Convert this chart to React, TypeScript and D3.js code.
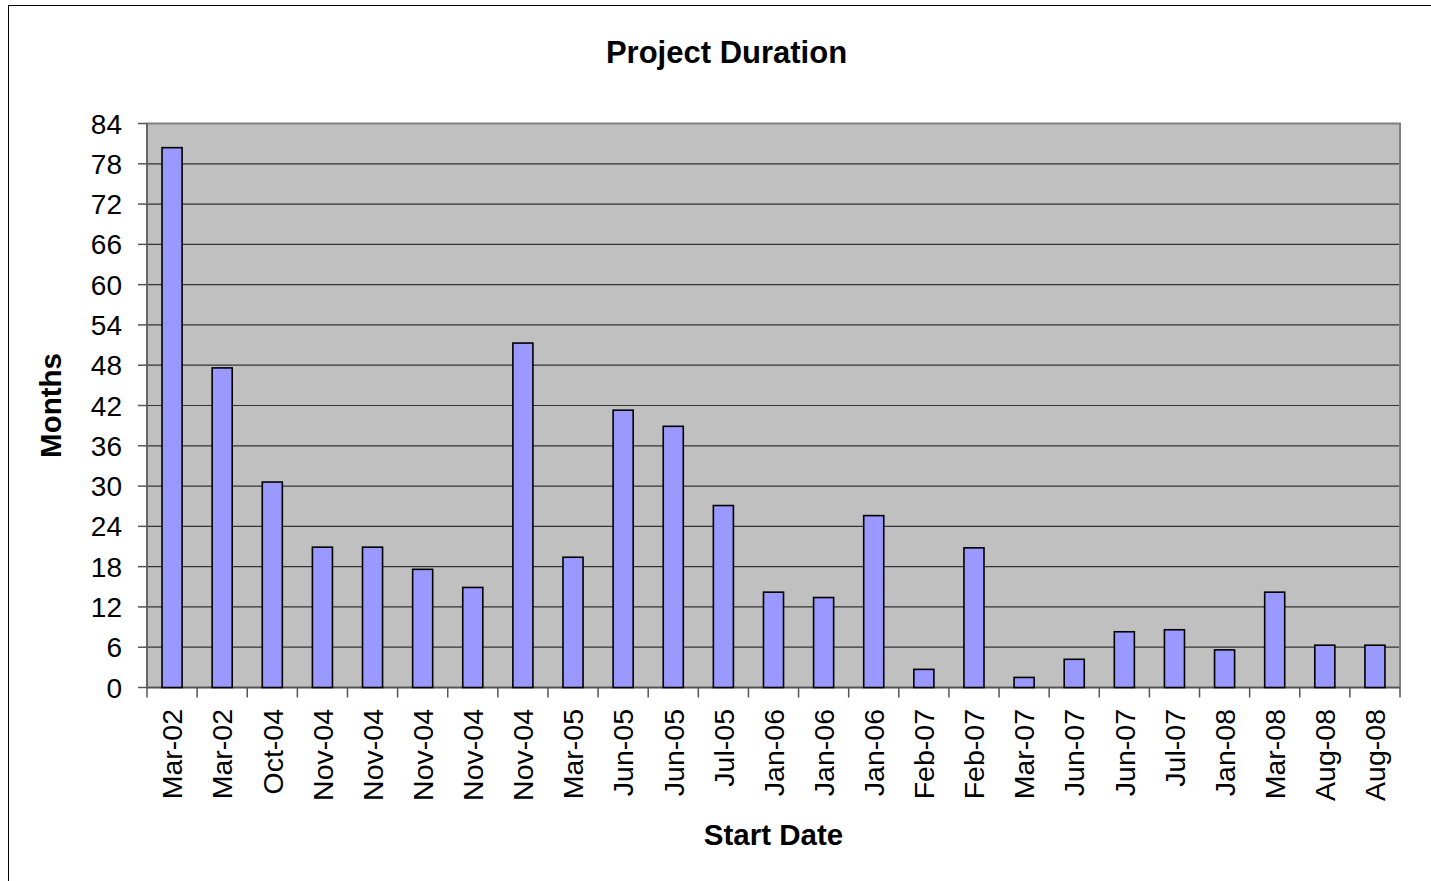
import React from "react";
import * as d3 from "d3";

const categories = [
  "Mar-02", "Mar-02", "Oct-04", "Nov-04", "Nov-04", "Nov-04", "Nov-04", "Nov-04",
  "Mar-05", "Jun-05", "Jun-05", "Jul-05", "Jan-06", "Jan-06", "Jan-06", "Feb-07",
  "Feb-07", "Mar-07", "Jun-07", "Jun-07", "Jul-07", "Jan-08", "Mar-08", "Aug-08", "Aug-08",
];
const months = [
  80.4, 47.6, 30.6, 20.9, 20.9, 17.6, 14.9, 51.3, 19.4, 41.3, 38.9, 27.1, 14.2,
  13.4, 25.6, 2.7, 20.8, 1.5, 4.2, 8.3, 8.6, 5.6, 14.2, 6.3, 6.3,
];
const yTicks = [0, 6, 12, 18, 24, 30, 36, 42, 48, 54, 60, 66, 72, 78, 84];

const title = "Project Duration";
const xTitle = "Start Date";
const yTitle = "Months";

export default function App() {
  const W = 1431;
  const H = 881;
  const left = 147;
  const right = 1400;
  const top = 123.5;
  const bottom = 687.5;
  const font = "Arial, 'Liberation Sans', Helvetica, sans-serif";

  const idx = categories.map((_, i) => String(i));
  const x = d3.scaleBand<string>().domain(idx).range([left, right]).paddingInner(0.6).paddingOuter(0.3);
  const xOuter = d3.scaleBand<string>().domain(idx).range([left, right]);
  const y = d3.scaleLinear().domain([0, 84]).range([bottom, top]);

  return (
    <svg
      width={W}
      height={H}
      style={{ position: "absolute", left: 0, top: 0, background: "#fff" }}
      fontFamily={font}
    >
      <rect x={8.5} y={5.5} width={1460} height={900} fill="#fff" stroke="#000" strokeWidth={1} />
      <rect x={left} y={top} width={right - left} height={bottom - top} fill="#C0C0C0" />
      {yTicks.slice(1).map((t) => (
        <line key={"g" + t} x1={left} x2={right} y1={y(t)} y2={y(t)} stroke="#333" strokeWidth={1.2} />
      ))}
      <rect x={left} y={top} width={right - left} height={bottom - top} fill="none" stroke="#808080" strokeWidth={2} />
      {/* y axis */}
      <line x1={left} x2={left} y1={top} y2={bottom} stroke="#666" strokeWidth={2} />
      {yTicks.map((t) => (
        <g key={"yt" + t}>
          <line x1={left - 9} x2={left} y1={y(t)} y2={y(t)} stroke="#555" strokeWidth={1.5} />
          <text x={122} y={y(t)} dy="0.36em" textAnchor="end" fontSize={28} fill="#000">
            {t}
          </text>
        </g>
      ))}
      {/* x axis */}
      <line x1={left} x2={right} y1={bottom} y2={bottom} stroke="#555" strokeWidth={1.5} />
      {idx.map((k) => (
        <line key={"xt" + k} x1={xOuter(k)!} x2={xOuter(k)!} y1={bottom} y2={bottom + 10} stroke="#555" strokeWidth={1.5} />
      ))}
      <line x1={right} x2={right} y1={bottom} y2={bottom + 10} stroke="#555" strokeWidth={1.5} />
      {/* bars */}
      {months.map((v, i) => (
        <rect
          key={"b" + i}
          x={x(String(i))!}
          y={y(v)}
          width={x.bandwidth()}
          height={y(0) - y(v)}
          fill="#9999FF"
          stroke="#000"
          strokeWidth={1.6}
        />
      ))}
      {categories.map((c, i) => {
        const cx = xOuter(String(i))! + xOuter.bandwidth() / 2;
        const ty = 709;
        return (
          <text
            key={"xl" + i}
            transform={`translate(${cx},${ty}) rotate(-90)`}
            textAnchor="end"
            dy="0.36em"
            fontSize={28.5}
            fill="#000"
          >
            {c}
          </text>
        );
      })}
      <text x={726.5} y={63} textAnchor="middle" fontSize={31} fontWeight="bold" fill="#000">
        {title}
      </text>
      <text x={(left + right) / 2} y={845} textAnchor="middle" fontSize={29.5} fontWeight="bold" fill="#000">
        {xTitle}
      </text>
      <text
        transform={`translate(61,${(top + bottom) / 2}) rotate(-90)`}
        textAnchor="middle"
        fontSize={29.5}
        fontWeight="bold"
        fill="#000"
      >
        {yTitle}
      </text>
    </svg>
  );
}
